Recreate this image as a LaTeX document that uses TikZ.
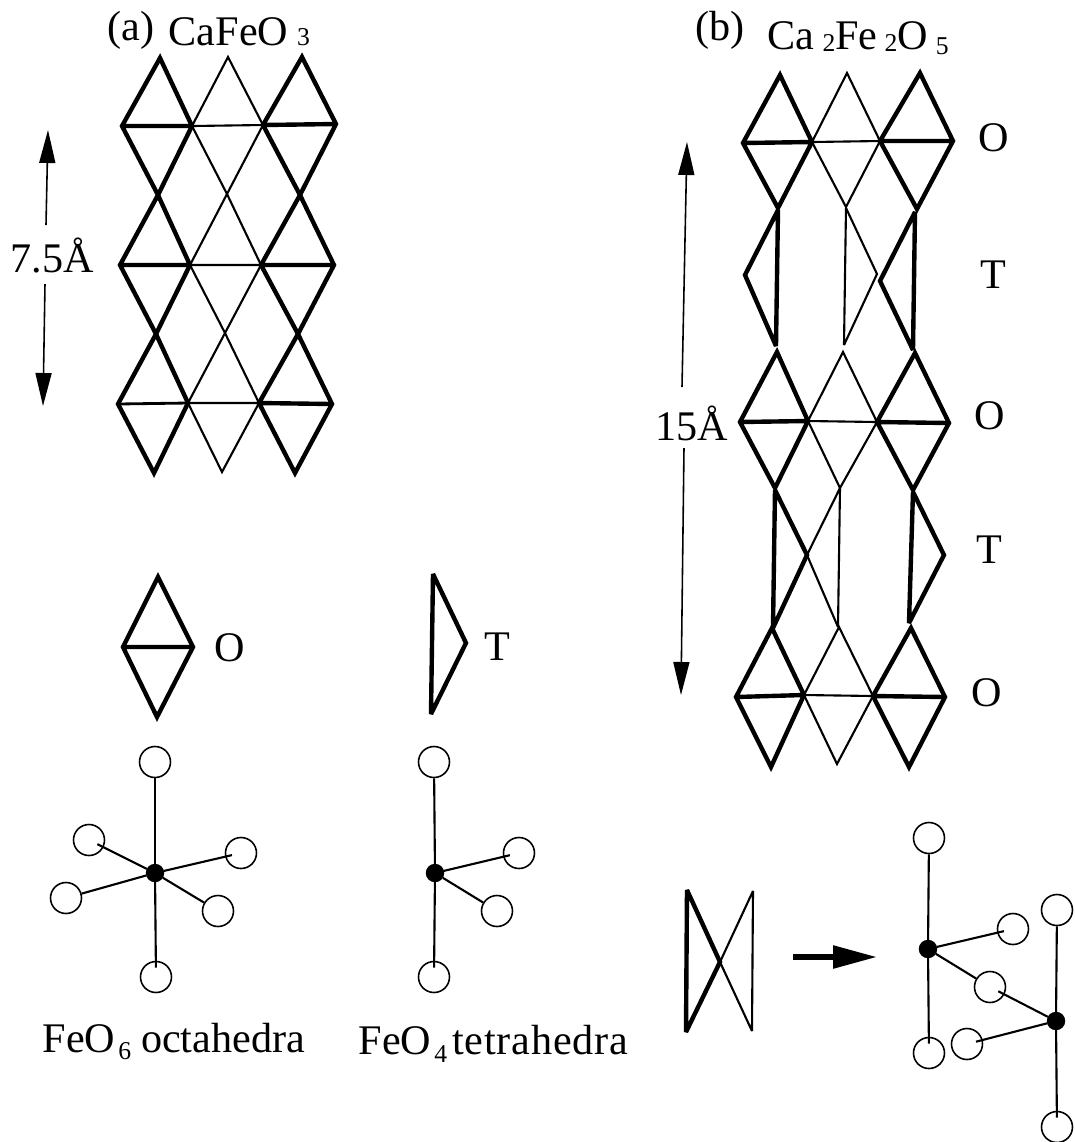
\documentclass[tikz,border=0pt]{standalone}
\usepackage{fontspec}
\setmainfont{Liberation Serif}
\usetikzlibrary{arrows.meta}

\newcommand{\subnum}[2][2pt]{\raisebox{-#1}{\fontsize{7.3}{8}\selectfont #2}}

\tikzset{
	heavy/.style={line width=1.25pt,miter limit=3},
	light/.style={line width=0.6pt,miter limit=3},
	oxy/.style={draw,circle,line width=0.45pt,minimum size=0.31cm,inner sep=0pt},
	iron/.style={draw,fill=black,circle,minimum size=0.17cm,inner sep=0pt},
	bond/.style={line width=0.6pt},
	bondin/.style={bond,shorten >=-0.07cm},
	dimarrow/.style={line width=0.45pt,-{Triangle[length=0.33cm,width=0.16cm]}},
	lbl/.style={inner sep=0pt,anchor=base west}
}

\begin{document}
\begin{tikzpicture}[font=\fontsize{12}{14}\selectfont]
	\useasboundingbox (0,0) rectangle (10.75,-11.42);

	\node[lbl] (tagA) at (1.07,-0.40) {(a)};
	\node[lbl] (titleA) at (1.68,-0.45) {CaFeO\kern0.09cm\subnum[0pt]{3}};
	\node[lbl] (tagB) at (6.95,-0.40) {(b)};
	\node[lbl] (titleB) at (7.67,-0.49) {Ca\kern0.08cm\subnum[0.6pt]{2}Fe\kern0.07cm\subnum[0.6pt]{2}O\kern0.08cm\subnum[1.7pt]{5}};

	% panel a, outer chains
	\draw[heavy] (1.60,-0.58) -- (1.22,-1.26) -- (1.58,-1.95) -- (1.92,-1.26) -- cycle (1.22,-1.26) -- (1.92,-1.26);
	\draw[heavy] (3.02,-0.57) -- (2.63,-1.25) -- (3.00,-1.95) -- (3.36,-1.24) -- cycle (2.63,-1.25) -- (3.36,-1.24);
	\draw[heavy] (1.58,-1.95) -- (1.20,-2.65) -- (1.56,-3.34) -- (1.90,-2.65) -- cycle (1.20,-2.65) -- (1.90,-2.65);
	\draw[heavy] (3.00,-1.95) -- (2.61,-2.65) -- (2.98,-3.34) -- (3.34,-2.65) -- cycle (2.61,-2.65) -- (3.34,-2.65);
	\draw[heavy] (1.56,-3.34) -- (1.18,-4.04) -- (1.54,-4.73) -- (1.88,-4.03) -- cycle;
	\draw[heavy] (2.98,-3.34) -- (2.59,-4.03) -- (2.95,-4.73) -- (3.32,-4.04) -- cycle (2.59,-4.03) -- (3.32,-4.04);
	\draw[line width=0.8pt] (1.18,-4.04) -- (1.88,-4.03);

	% panel a, middle chain
	\draw[light] (2.28,-0.57) -- (1.92,-1.26) -- (2.27,-1.94) -- (2.63,-1.25) -- cycle (1.92,-1.26) -- (2.63,-1.25);
	\draw[light] (2.27,-1.94) -- (1.90,-2.65) -- (2.25,-3.33) -- (2.61,-2.65) -- cycle (1.90,-2.65) -- (2.61,-2.65);
	\draw[light] (2.25,-3.33) -- (1.88,-4.03) -- (2.22,-4.72) -- (2.59,-4.03) -- cycle (1.88,-4.03) -- (2.59,-4.03);

	\node[lbl] (lenA) at (0.10,-2.72) {7.5Å};
	\coordinate (lenAup) at (0.46,-2.25);
	\coordinate (lenAupTip) at (0.48,-1.30);
	\coordinate (lenAdown) at (0.45,-2.84);
	\coordinate (lenAdownTip) at (0.43,-4.06);
	\draw[dimarrow] (lenAup) -- (lenAupTip);
	\draw[dimarrow] (lenAdown) -- (lenAdownTip);

	% panel b, O layers
	\draw[heavy] (7.80,-0.75) -- (7.43,-1.43) -- (7.78,-2.08) -- (8.12,-1.42) -- cycle (7.43,-1.43) -- (8.12,-1.42);
	\draw[heavy] (9.20,-0.73) -- (8.80,-1.41) -- (9.17,-2.09) -- (9.53,-1.41) -- cycle (8.80,-1.41) -- (9.53,-1.41);
	\draw[light] (8.47,-0.73) -- (8.12,-1.42) -- (8.46,-2.07) -- (8.80,-1.41) -- cycle (8.12,-1.42) -- (8.80,-1.41);

	\draw[heavy] (7.77,-3.52) -- (7.40,-4.22) -- (7.75,-4.88) -- (8.08,-4.21) -- cycle (7.40,-4.22) -- (8.08,-4.21);
	\draw[heavy] (9.15,-3.53) -- (8.77,-4.22) -- (9.13,-4.90) -- (9.49,-4.23) -- cycle (8.77,-4.22) -- (9.49,-4.23);
	\draw[light] (8.43,-3.52) -- (8.08,-4.21) -- (8.40,-4.88) -- (8.77,-4.22) -- cycle (8.08,-4.21) -- (8.77,-4.22);

	\draw[heavy] (7.72,-6.28) -- (7.36,-6.97) -- (7.71,-7.67) -- (8.04,-6.95) -- cycle (7.36,-6.97) -- (8.04,-6.95);
	\draw[heavy] (9.11,-6.28) -- (8.73,-6.96) -- (9.09,-7.67) -- (9.45,-6.97) -- cycle (8.73,-6.96) -- (9.45,-6.97);
	\draw[light] (8.39,-6.27) -- (8.04,-6.95) -- (8.37,-7.64) -- (8.73,-6.96) -- cycle (8.04,-6.95) -- (8.73,-6.96);

	% panel b, T layers
	\draw[heavy] (7.78,-2.10) -- (7.45,-2.75) -- (7.76,-3.46) -- cycle;
	\draw[light] (8.46,-2.08) -- (8.44,-3.45) -- (8.77,-2.74) -- cycle;
	\draw[heavy] (9.15,-2.12) -- (8.80,-2.81) -- (9.13,-3.50) -- cycle;

	\draw[heavy] (7.75,-4.90) -- (8.07,-5.55) -- (7.73,-6.28) -- cycle;
	\draw[light] (8.40,-4.88) -- (8.07,-5.55) -- (8.38,-6.27) -- cycle;
	\draw[heavy] (9.13,-4.92) -- (9.44,-5.55) -- (9.09,-6.23) -- cycle;

	\node (layerOa) at (9.94,-1.38) {O};
	\node (layerTa) at (9.93,-2.75) {T};
	\node (layerOb) at (9.90,-4.16) {O};
	\node (layerTb) at (9.89,-5.50) {T};
	\node (layerOc) at (9.87,-6.93) {O};

	\node[lbl] (lenB) at (6.55,-4.40) {15Å};
	\coordinate (lenBup) at (6.82,-3.87);
	\coordinate (lenBupTip) at (6.87,-1.42);
	\coordinate (lenBdown) at (6.84,-4.48);
	\coordinate (lenBdownTip) at (6.81,-6.95);
	\draw[dimarrow] (lenBup) -- (lenBupTip);
	\draw[dimarrow] (lenBdown) -- (lenBdownTip);

	% legend shapes
	\draw[heavy] (1.58,-5.77) -- (1.23,-6.47) -- (1.57,-7.17) -- (1.93,-6.47) -- cycle (1.23,-6.47) -- (1.93,-6.47);
	\draw[heavy] (4.33,-5.74) -- (4.66,-6.43) -- (4.31,-7.14) -- cycle;
	\node (keyO) at (2.30,-6.48) {O};
	\node (keyT) at (4.97,-6.47) {T};

	% octahedra
	\node[iron] (feOct) at (1.55,-8.73) {};
	\node[oxy] (octTop) at (1.55,-7.62) {};
	\node[oxy] (octBot) at (1.56,-9.77) {};
	\node[oxy] (octUL) at (0.89,-8.40) {};
	\node[oxy] (octLL) at (0.66,-8.98) {};
	\node[oxy] (octUR) at (2.41,-8.53) {};
	\node[oxy] (octLR) at (2.18,-9.11) {};
	\draw[bond] (feOct) -- (octTop);
	\draw[bondin] (feOct) -- (octBot);
	\draw[bondin] (feOct) -- (octUL);
	\draw[bond] (feOct) -- (octLL);
	\draw[bondin] (feOct) -- (octUR);
	\draw[bond] (feOct) -- (octLR);

	% tetrahedra
	\node[iron] (feTet) at (4.35,-8.73) {};
	\node[oxy] (tetTop) at (4.34,-7.62) {};
	\node[oxy] (tetBot) at (4.34,-9.77) {};
	\node[oxy] (tetUR) at (5.19,-8.53) {};
	\node[oxy] (tetLR) at (4.97,-9.11) {};
	\draw[bond] (feTet) -- (tetTop);
	\draw[bondin] (feTet) -- (tetBot);
	\draw[bondin] (feTet) -- (tetUR);
	\draw[bond] (feTet) -- (tetLR);

	\node[lbl] (nameOct) at (0.42,-10.52) {FeO\kern0.03cm\subnum{6}\kern0.10cm octahedra};
	\node[lbl] (nameTet) at (3.58,-10.54) {FeO\kern0.03cm\subnum[2.3pt]{4}\kern0.05cm{\addfontfeature{LetterSpace=2}tetrahedra}};

	% shared corner
	\draw[heavy] (6.87,-8.90) -- (7.20,-9.62) -- (6.86,-10.32) -- cycle;
	\draw[light] (7.53,-8.91) -- (7.20,-9.62) -- (7.52,-10.31) -- cycle;
	\coordinate (stepFrom) at (7.93,-9.57);
	\coordinate (stepTo) at (8.77,-9.57);
	\draw[line width=1.6pt,-{Triangle[length=0.44cm,width=0.22cm]}] (stepFrom) -- (stepTo);

	\node[iron] (feOne) at (9.28,-9.49) {};
	\node[iron] (feTwo) at (10.56,-10.21) {};
	\node[oxy] (oneTop) at (9.29,-8.38) {};
	\node[oxy] (oneBot) at (9.29,-10.53) {};
	\node[oxy] (oneRight) at (10.13,-9.29) {};
	\node[oxy] (shared) at (9.90,-9.87) {};
	\node[oxy] (twoLeft) at (9.67,-10.44) {};
	\node[oxy] (twoTop) at (10.57,-9.10) {};
	\node[oxy] (twoBot) at (10.57,-11.27) {};
	\draw[bond] (feOne) -- (oneTop);
	\draw[bondin] (feOne) -- (oneBot);
	\draw[bondin] (feOne) -- (oneRight);
	\draw[bond] (feOne) -- (shared);
	\draw[bondin] (feTwo) -- (shared);
	\draw[bondin] (feTwo) -- (twoLeft);
	\draw[bond] (feTwo) -- (twoTop);
	\draw[bondin] (feTwo) -- (twoBot);
\end{tikzpicture}
\end{document}
